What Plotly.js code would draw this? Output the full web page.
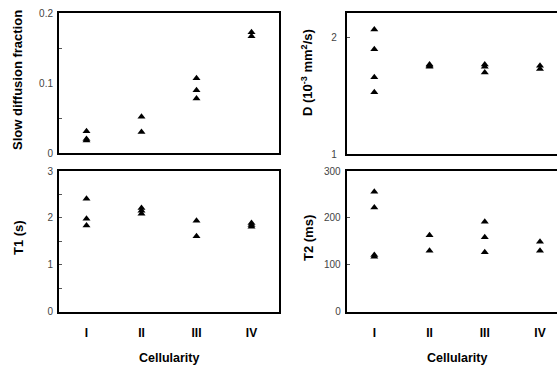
<!DOCTYPE html>
<html>
<head>
<meta charset="utf-8">
<script src="https://cdn.plot.ly/plotly-3.0.1.min.js"></script>
<style>
html, body { margin: 0; padding: 0; overflow: hidden; background: #fff; }
#chart { width: 568px; height: 365px; }
</style>
</head>
<body>
<div id="chart"></div>
<script>
// ---- data ----
const groupLabels = ['I', 'II', 'III', 'IV'];
const groupPositions = [1, 2, 3, 4];

const slowGroup = [1, 1, 1, 2, 2, 3, 3, 3, 4, 4];
const slowFraction = [0.031, 0.020, 0.018, 0.052, 0.030, 0.107, 0.090, 0.078, 0.173, 0.167];

const dGroup = [1, 1, 1, 1, 2, 2, 2, 3, 3, 3, 4, 4];
const dValues = [2.07, 1.90, 1.66, 1.53, 1.77, 1.75, 1.76, 1.77, 1.75, 1.70, 1.76, 1.73];

const t1Group = [1, 1, 1, 2, 2, 2, 3, 3, 4, 4, 4];
const t1Values = [2.41, 1.98, 1.84, 2.21, 2.15, 2.09, 1.94, 1.61, 1.89, 1.85, 1.81];

const t2Group = [1, 1, 1, 1, 2, 2, 3, 3, 3, 4, 4];
const t2Values = [256, 222, 121, 117, 163, 130, 192, 159, 127, 149, 130];

const yTitles = ['Slow diffusion fraction', 'D (10<sup>-3</sup> mm<sup>2</sup>/s)', 'T1 (s)', 'T2 (ms)'];
const xTitle = 'Cellularity';

// ---- layout helpers ----
const W = 568, H = 365;
const FONT = 'Liberation Sans, Arial, Helvetica, sans-serif';
const px = v => v / W;
const py = v => (H - v) / H;

const marker = { symbol: 'triangle-up', size: 7, color: '#000' };
function trace(x, y, xa, ya) {
  return { type: 'scatter', mode: 'markers', x: x, y: y, xaxis: xa, yaxis: ya,
           marker: marker, hoverinfo: 'x+y', showlegend: false, cliponaxis: false };
}

const data = [
  trace(slowGroup, slowFraction, 'x', 'y'),
  trace(dGroup, dValues, 'x2', 'y2'),
  trace(t1Group, t1Values, 'x3', 'y3'),
  trace(t2Group, t2Values, 'x4', 'y4')
];

function xaxis(domain, showLabels, anchor) {
  return {
    domain: domain, anchor: anchor, range: [0.5, 4.5],
    showgrid: false, zeroline: false, showline: true, mirror: true,
    linecolor: '#000', linewidth: 2, ticks: '',
    tickvals: groupPositions, ticktext: groupLabels, showticklabels: showLabels,
    tickfont: { family: FONT, size: 12, color: '#000', weight: 'bold' },
    ticklabelstandoff: 9, fixedrange: true
  };
}
function yaxis(domain, range, dtick, anchor, extra) {
  return Object.assign({
    domain: domain, anchor: anchor, range: range, dtick: dtick, tick0: 0,
    showgrid: false, zeroline: false, showline: true, mirror: true,
    linecolor: '#000', linewidth: 2,
    ticks: 'inside', ticklen: 3, tickcolor: '#555', tickwidth: 1,
    tickfont: { family: FONT, size: 10, color: '#444' },
    ticklabelstandoff: 2, fixedrange: true
  }, extra || {});
}

const leftDom = [px(59), px(279)];
const rightDom = [px(346.7), px(567.6)];
const topDomL = [py(153), py(13.3)];
const topDomR = [py(154), py(13.3)];
const botDom = [py(311.7), py(171)];

const layout = {
  width: W, height: H,
  margin: { l: 0, r: 0, t: 0, b: 0 },
  paper_bgcolor: '#fff', plot_bgcolor: '#fff',
  font: { family: FONT, color: '#000' },
  showlegend: false,
  xaxis: xaxis(leftDom, false, 'y'),
  yaxis: yaxis(topDomL, [0, 0.2], 0.1, 'x', {
    ticks: '', minor: { ticks: 'inside', dtick: 0.05, tick0: 0, ticklen: 3, tickcolor: '#555' }
  }),
  xaxis2: xaxis(rightDom, false, 'y2'),
  yaxis2: yaxis(topDomR, [1, 2.21], 1, 'x2', { tick0: 1, ticklabelstandoff: 6 }),
  xaxis3: xaxis(leftDom, true, 'y3'),
  yaxis3: yaxis(botDom, [0, 3], 1, 'x3', {
    minor: { ticks: 'inside', dtick: 0.5, tick0: 0, ticklen: 3, tickcolor: '#555' }
  }),
  xaxis4: xaxis(rightDom, true, 'y4'),
  yaxis4: yaxis(botDom, [0, 300], 100, 'x4'),
  annotations: [
    { text: yTitles[0], x: px(17), y: py(80) },
    { text: yTitles[1], x: px(307), y: py(73) },
    { text: yTitles[2], x: px(18), y: py(238) },
    { text: yTitles[3], x: px(308), y: py(238) }
  ].map(a => Object.assign(a, {
    xref: 'paper', yref: 'paper', xanchor: 'center', yanchor: 'middle',
    textangle: -90, showarrow: false,
    font: { family: FONT, size: 13, color: '#000', weight: 'bold' }
  })).concat([
    { text: xTitle, x: px(169), y: py(358) },
    { text: xTitle, x: px(457), y: py(358) }
  ].map(a => Object.assign(a, {
    xref: 'paper', yref: 'paper', xanchor: 'center', yanchor: 'middle',
    showarrow: false,
    font: { family: FONT, size: 12.5, color: '#000', weight: 'bold' }
  })))
};

Plotly.newPlot('chart', data, layout, { displayModeBar: false, staticPlot: true });
</script>
</body>
</html>
